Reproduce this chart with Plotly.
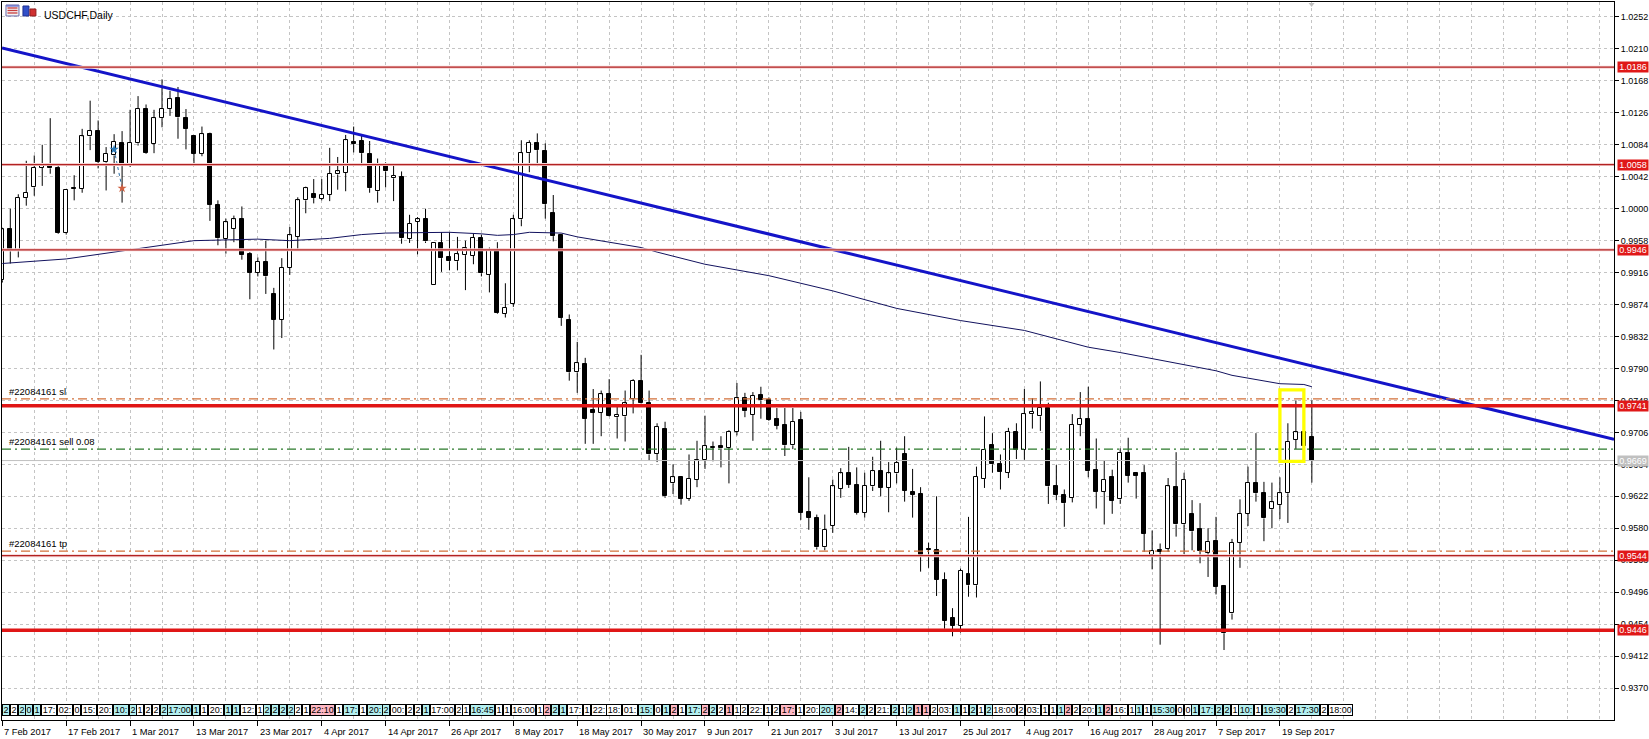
import plotly.graph_objects as go

# ---------------- data ----------------
OPEN = [0.9906,0.9973,0.9944,1.0014,1.0028,1.0054,1.0059,1.0053,0.9968,1.0027,
        1.0026,1.0095,1.0102,1.0061,1.0070,1.0087,1.0057,1.0086,1.0131,1.0085,
        1.0119,1.0131,1.0145,1.0119,1.0095,1.0072,1.0098,1.0005,0.9960,0.9974,
        0.9986,0.9941,0.9916,0.9930,0.9888,0.9854,0.9922,0.9963,1.0011,1.0019,
        1.0013,1.0018,1.0045,1.0047,1.0088,1.0089,1.0072,1.0023,1.0056,1.0040,
        1.0042,0.9960,0.9983,0.9986,0.9900,0.9955,0.9937,0.9931,0.9939,0.9938,
        0.9962,0.9913,0.9946,0.9862,0.9875,0.9986,1.0073,1.0086,1.0076,0.9994,
        0.9965,0.9854,0.9785,0.9796,0.9735,0.9732,0.9757,0.9726,0.9727,0.9750,
        0.9774,0.9744,0.9678,0.9711,0.9639,0.9647,0.9619,0.9644,0.9670,0.9686,
        0.9688,0.9686,0.9707,0.9751,0.9729,0.9755,0.9749,0.9723,0.9716,0.9689,
        0.9722,0.9601,0.9593,0.9555,0.9583,0.9632,0.9652,0.9637,0.9600,0.9635,
        0.9655,0.9633,0.9652,0.9678,0.9628,0.9625,0.9553,0.9552,0.9512,0.9462,
        0.9452,0.9520,0.9505,0.9645,0.9690,0.9665,0.9653,0.9706,0.9683,0.9730,
        0.9727,0.9738,0.9635,0.9624,0.9620,0.9716,0.9724,0.9656,0.9628,0.9648,
        0.9618,0.9679,0.9652,0.9652,0.9545,0.9551,0.9553,0.9634,0.9585,0.9599,
        0.9579,0.9548,0.9563,0.9504,0.9468,0.9561,0.9599,0.9640,0.9626,0.9605,
        0.9611,0.9626,0.9696,0.9706,0.9700]
HIGH = [0.9975,1.0000,1.0019,1.0063,1.0070,1.0084,1.0119,1.0056,1.0024,1.0044,
        1.0105,1.0142,1.0116,1.0081,1.0098,1.0102,1.0130,1.0148,1.0137,1.0130,
        1.0170,1.0155,1.0160,1.0131,1.0096,1.0108,1.0100,1.0011,0.9987,0.9991,
        1.0003,0.9943,0.9936,0.9958,0.9896,0.9935,0.9976,1.0015,1.0029,1.0039,
        1.0039,1.0080,1.0068,1.0097,1.0108,1.0096,1.0089,1.0066,1.0061,1.0058,
        1.0049,0.9992,0.9989,1.0000,0.9956,0.9969,0.9969,0.9963,0.9958,0.9967,
        0.9966,0.9949,0.9956,0.9902,0.9992,1.0090,1.0090,1.0099,1.0086,1.0018,
        0.9967,0.9861,0.9825,0.9804,0.9763,0.9761,0.9776,0.9740,0.9761,0.9776,
        0.9808,0.9761,0.9718,0.9720,0.9664,0.9648,0.9677,0.9695,0.9728,0.9694,
        0.9701,0.9709,0.9771,0.9758,0.9759,0.9766,0.9752,0.9738,0.9738,0.9738,
        0.9733,0.9647,0.9598,0.9598,0.9644,0.9659,0.9687,0.9660,0.9653,0.9674,
        0.9695,0.9667,0.9686,0.9701,0.9658,0.9634,0.9561,0.9622,0.9522,0.9475,
        0.9527,0.9595,0.9661,0.9727,0.9705,0.9677,0.9712,0.9718,0.9763,0.9751,
        0.9773,0.9745,0.9663,0.9631,0.9730,0.9759,0.9766,0.9698,0.9669,0.9657,
        0.9685,0.9699,0.9654,0.9663,0.9577,0.9560,0.9646,0.9680,0.9653,0.9617,
        0.9613,0.9580,0.9595,0.9505,0.9566,0.9618,0.9661,0.9705,0.9641,0.9640,
        0.9647,0.9718,0.9748,0.9709,0.9748]
LOW = [0.9903,0.9928,0.9936,1.0004,1.0017,1.0030,1.0046,0.9967,0.9966,1.0011,
       1.0021,1.0077,1.0053,1.0024,1.0046,1.0008,1.0055,1.0083,1.0072,1.0073,
       1.0107,1.0122,1.0092,1.0078,1.0060,1.0069,0.9984,0.9952,0.9941,0.9956,
       0.9933,0.9881,0.9911,0.9888,0.9815,0.9830,0.9913,0.9947,0.9994,1.0007,
       1.0011,1.0010,1.0025,1.0023,1.0074,1.0056,1.0021,1.0008,1.0028,1.0010,
       0.9954,0.9955,0.9940,0.9955,0.9900,0.9917,0.9919,0.9919,0.9893,0.9927,
       0.9911,0.9890,0.9862,0.9857,0.9871,0.9977,1.0048,1.0056,0.9987,0.9957,
       0.9846,0.9774,0.9758,0.9691,0.9691,0.9701,0.9727,0.9698,0.9694,0.9731,
       0.9744,0.9669,0.9667,0.9620,0.9625,0.9611,0.9616,0.9634,0.9658,0.9668,
       0.9660,0.9639,0.9702,0.9726,0.9695,0.9724,0.9721,0.9710,0.9675,0.9684,
       0.9591,0.9578,0.9552,0.9551,0.9574,0.9620,0.9633,0.9598,0.9594,0.9629,
       0.9622,0.9601,0.9639,0.9615,0.9594,0.9523,0.9528,0.9491,0.9448,0.9438,
       0.9443,0.9490,0.9489,0.9633,0.9653,0.9631,0.9646,0.9671,0.9670,0.9711,
       0.9708,0.9612,0.9617,0.9582,0.9614,0.9701,0.9647,0.9606,0.9585,0.9599,
       0.9612,0.9640,0.9619,0.9549,0.9526,0.9427,0.9549,0.9569,0.9546,0.9551,
       0.9534,0.9516,0.9493,0.9420,0.9460,0.9528,0.9583,0.9615,0.9563,0.9580,
       0.9592,0.9587,0.9684,0.9667,0.9640]
CLOSE = [0.9973,0.9944,1.0014,1.0021,1.0054,1.0059,1.0053,0.9968,1.0024,1.0026,
         1.0095,1.0102,1.0062,1.0072,1.0088,1.0056,1.0087,1.0131,1.0073,1.0119,
         1.0131,1.0144,1.0120,1.0105,1.0072,1.0098,1.0005,0.9961,0.9982,0.9986,
         0.9939,0.9916,0.9930,0.9911,0.9854,0.9922,0.9965,1.0011,1.0027,1.0014,
         1.0018,1.0046,1.0049,1.0090,1.0085,1.0073,1.0027,1.0058,1.0049,1.0043,
         0.9961,0.9980,0.9986,0.9957,0.9955,0.9935,0.9931,0.9940,0.9948,0.9962,
         0.9915,0.9946,0.9863,0.9870,0.9986,1.0073,1.0087,1.0077,1.0006,0.9964,
         0.9857,0.9785,0.9797,0.9724,0.9732,0.9756,0.9728,0.9729,0.9744,0.9774,
         0.9745,0.9677,0.9713,0.9622,0.9647,0.9619,0.9645,0.9670,0.9688,0.9687,
         0.9685,0.9707,0.9751,0.9734,0.9754,0.9748,0.9722,0.9715,0.9689,0.9720,
         0.9600,0.9594,0.9555,0.9578,0.9635,0.9652,0.9637,0.9600,0.9636,0.9655,
         0.9633,0.9652,0.9666,0.9629,0.9624,0.9545,0.9552,0.9512,0.9458,0.9452,
         0.9524,0.9505,0.9648,0.9683,0.9664,0.9654,0.9707,0.9683,0.9730,0.9733,
         0.9738,0.9635,0.9624,0.9613,0.9716,0.9724,0.9655,0.9628,0.9644,0.9616,
         0.9679,0.9649,0.9649,0.9573,0.9550,0.9549,0.9635,0.9585,0.9644,0.9576,
         0.9550,0.9562,0.9503,0.9442,0.9561,0.9599,0.9640,0.9626,0.9593,0.9614,
         0.9626,0.9694,0.9706,0.9688,0.9669]

# moving average samples (bar index, price)
MA_BARS = [0, 8, 16, 24, 32, 36, 41, 45, 48, 56, 60, 62, 64, 66, 70, 72, 76, 80, 82,
           88, 96, 104, 112, 120, 128, 136, 140, 148, 152, 154, 158, 160, 163, 164]
MA_VALUES = [0.9928, 0.9934, 0.9946, 0.9958, 0.9960, 0.9958, 0.9961, 0.9966, 0.9968,
             0.9969, 0.9967, 0.9965, 0.9966, 0.9969, 0.9968, 0.9963, 0.9956, 0.9949,
             0.9943, 0.9927, 0.9912, 0.9892, 0.9869, 0.9853, 0.9840, 0.9818, 0.9811,
             0.9795, 0.9787, 0.9781, 0.9774, 0.9770, 0.9769, 0.9766]

# trendline anchors (bar index, price)
TREND_BARS = [0, 200]
TREND_PRICES = [1.02113, 0.97017]

THIN_LEVELS = [1.0186, 1.0058, 0.9946, 0.9544]
THICK_LEVELS = [0.9741, 0.9446]
SL_PRICE = 0.9750
TP_PRICE = 0.9550
ENTRY_PRICE = 0.9684
BID_PRICE = 0.9669
ORDER_TEXT = ["#22084161 sl", "#22084161 sell 0.08", "#22084161 tp"]

RED_LABELS = ["1.0186", "1.0058", "0.9946", "0.9741", "0.9544", "0.9446"]
GRAY_LABEL = "0.9669"

Y_TICKS = ["0.9370", "0.9412", "0.9454", "0.9496", "0.9538", "0.9580", "0.9622", "0.9664",
           "0.9706", "0.9748", "0.9790", "0.9832", "0.9874", "0.9916", "0.9958", "1.0000",
           "1.0042", "1.0084", "1.0126", "1.0168", "1.0210", "1.0252"]

DATE_BARS = [0, 8, 16, 24, 32, 40, 48, 56, 64, 72, 80, 88, 96, 104, 112, 120, 128, 136, 144, 152, 160]
DATE_LABELS = ["7 Feb 2017", "17 Feb 2017", "1 Mar 2017", "13 Mar 2017", "23 Mar 2017",
               "4 Apr 2017", "14 Apr 2017", "26 Apr 2017", "8 May 2017", "18 May 2017",
               "30 May 2017", "9 Jun 2017", "21 Jun 2017", "3 Jul 2017", "13 Jul 2017",
               "25 Jul 2017", "4 Aug 2017", "16 Aug 2017", "28 Aug 2017", "7 Sep 2017",
               "19 Sep 2017"]

BOX_BARS = [160, 163]
BOX_PRICES = [0.9668, 0.9762]

TRADE_BARS = [14, 15]
TRADE_PRICES = [1.0078, 1.0027]

# history labels on the time scale: text and colour code (c=cyan, w=white, p=pink)
HIST_TEXT = ["2","2","2","0","1","17:","02:","0","15:","20:","10:","2","1","2","2","2","17:00",
             "1","1","20:","1","1","12:","1","2","2","2","2","2","1","22:10","1","17:","1","20:",
             "2","00:","2","2","1","17:00","2","1","16:45","1","1","16:00","1","2",
             "2","1","17:","1","22:","18:","01:","15:","0","1","2","1","17:","2","2","2","1","1",
             "2","22:","1","2","17:","1","20:","20:","2","14:","2","2","21:","2","1","2","1","1",
             "2","03:","1","1","2","1","2","18:00","2","03:","1","1","1","2","2",
             "20:","1","2","16:","1","1","1","15:30","0","0","1","17:","2","2","1","10:","1",
             "19:30","2","17:30","2","18:00"]
HIST_COLOR = ["c","w","c","c","c","w","w","w","w","w","c","c","w","w","w","c","c",
              "c","w","w","c","c","w","w","c","c","c","c","w","w","p","w","c","w","c",
              "c","w","w","w","c","w","w","w","c","w","w","w","w","p",
              "c","c","w","w","w","w","w","c","w","c","p","w","c","p","c","w","p","w",
              "w","w","w","w","p","w","w","c","p","w","c","w","w","c","w","c","p","p",
              "w","w","c","w","c","w","c","w","w","w","w","w","c","p","w",
              "w","c","p","w","w","c","w","c","w","w","c","c","c","c","w","c","w",
              "c","w","c","w","w"]

# ---------------- geometry helpers (layout only) ----------------
W, H = 1649, 739
ML, MR, MT, MB = 1, 33, 1, 19
PW, PH = W - ML - MR, H - MT - MB
X_RANGE = [-0.04, 201.84]
Y_RANGE = [0.93280, 1.02717]
FONT = "Liberation Sans"


def px_x(px):
    return (px - ML) / PW


def px_y(py):
    return 1 - (py - MT) / PH


fig = go.Figure()

# wicks
wx, wy = [], []
for i, (o, h, l, c) in enumerate(zip(OPEN, HIGH, LOW, CLOSE)):
    top, bot = max(o, c), min(o, c)
    wx += [i, i, None, i, i, None]
    wy += [h, top, None, bot, l, None]
fig.add_trace(go.Scatter(x=wx, y=wy, mode="lines", line=dict(color="black", width=1),
                         hoverinfo="skip"))

# bodies
bx = list(range(len(OPEN)))
base = [min(o, c) for o, c in zip(OPEN, CLOSE)]
hgt = [max(abs(c - o), 0.00003) for o, c in zip(OPEN, CLOSE)]
fill = ["white" if c >= o else "black" for o, c in zip(OPEN, CLOSE)]
fig.add_trace(go.Bar(x=bx, y=hgt, base=base, width=0.5,
                     marker=dict(color=fill, line=dict(color="black", width=1)),
                     hoverinfo="skip"))

# moving average
fig.add_trace(go.Scatter(x=MA_BARS, y=MA_VALUES, mode="lines",
                         line=dict(color="#12125e", width=1), hoverinfo="skip"))

# trendline extended across the chart
slope = (TREND_PRICES[1] - TREND_PRICES[0]) / (TREND_BARS[1] - TREND_BARS[0])
tx = [X_RANGE[0], X_RANGE[1]]
ty = [TREND_PRICES[0] + slope * (x - TREND_BARS[0]) for x in tx]
fig.add_trace(go.Scatter(x=tx, y=ty, mode="lines", line=dict(color="#1414c8", width=3),
                         hoverinfo="skip"))

# closed trade marker
fig.add_trace(go.Scatter(x=TRADE_BARS, y=TRADE_PRICES, mode="lines",
                         line=dict(color="#2a6fa8", width=1, dash="dot"), hoverinfo="skip"))
fig.add_trace(go.Scatter(x=TRADE_BARS[:1], y=TRADE_PRICES[:1], mode="markers",
                         marker=dict(symbol="star", size=7, color="#2a7ab8"), hoverinfo="skip"))
fig.add_trace(go.Scatter(x=TRADE_BARS[1:], y=TRADE_PRICES[1:], mode="markers",
                         marker=dict(symbol="star", size=7, color="#d06040"), hoverinfo="skip"))

shapes = []
# thin red levels with a pale halo
for lv in THIN_LEVELS:
    shapes.append(dict(type="line", xref="paper", yref="y", x0=0, x1=1, y0=lv, y1=lv,
                       line=dict(color="#f6d2d2", width=3), layer="above"))
    shapes.append(dict(type="line", xref="paper", yref="y", x0=0, x1=1, y0=lv, y1=lv,
                       line=dict(color="#b22222", width=1.2), layer="above"))
for lv in THICK_LEVELS:
    shapes.append(dict(type="line", xref="paper", yref="y", x0=0, x1=1, y0=lv, y1=lv,
                       line=dict(color="#e01616", width=3.5), layer="above"))
for lv in (SL_PRICE, TP_PRICE):
    shapes.append(dict(type="line", xref="paper", yref="y", x0=0, x1=1, y0=lv, y1=lv,
                       line=dict(color="#d2703a", width=1.2, dash="9px,4px,2px,4px"),
                       layer="above"))
shapes.append(dict(type="line", xref="paper", yref="y", x0=0, x1=1, y0=ENTRY_PRICE,
                   y1=ENTRY_PRICE, line=dict(color="#2a7a2a", width=1.2, dash="9px,4px,2px,4px"),
                   layer="above"))
shapes.append(dict(type="line", xref="paper", yref="y", x0=0, x1=1, y0=BID_PRICE,
                   y1=BID_PRICE, line=dict(color="#c0c0c0", width=1), layer="above"))
# yellow box
shapes.append(dict(type="rect", xref="x", yref="y", x0=BOX_BARS[0], x1=BOX_BARS[1],
                   y0=BOX_PRICES[0], y1=BOX_PRICES[1],
                   line=dict(color="#ffff00", width=3.3), layer="above"))
# icons top-left
shapes.append(dict(type="rect", xref="paper", yref="paper", x0=px_x(5), x1=px_x(18),
                   y0=px_y(15), y1=px_y(4), fillcolor="#f4f4f4",
                   line=dict(color="#6a6aa8", width=1)))
for k, py in enumerate([7, 9.5, 12]):
    shapes.append(dict(type="line", xref="paper", yref="paper", x0=px_x(6.5), x1=px_x(16.5),
                       y0=px_y(py), y1=px_y(py), line=dict(color="#c83c3c", width=1.3)))
shapes.append(dict(type="rect", xref="paper", yref="paper", x0=px_x(5.5), x1=px_x(17.5),
                   y0=px_y(5.5), y1=px_y(4.5), fillcolor="#3c4cc8", line=dict(width=0)))
shapes.append(dict(type="rect", xref="paper", yref="paper", x0=px_x(22), x1=px_x(28),
                   y0=px_y(15), y1=px_y(5), fillcolor="#3250c8", line=dict(color="#203090", width=1)))
shapes.append(dict(type="rect", xref="paper", yref="paper", x0=px_x(29), x1=px_x(35),
                   y0=px_y(15), y1=px_y(8), fillcolor="#d03030", line=dict(color="#902020", width=1)))
# shift marker at top
shapes.append(dict(type="path", xref="paper", yref="paper",
                   path=f"M {px_x(1310)} {px_y(2)} L {px_x(1316)} {px_y(2)} L {px_x(1313)} {px_y(6)} Z",
                   fillcolor="#c0c0c0", line=dict(width=0)))

ann = []
ann.append(dict(text="USDCHF,Daily", xref="paper", yref="paper", x=px_x(41), y=px_y(6),
                xanchor="left", yanchor="top", showarrow=False,
                font=dict(family=FONT, size=10.5, color="black")))
for txt, lv in zip(ORDER_TEXT, (SL_PRICE, ENTRY_PRICE, TP_PRICE)):
    ann.append(dict(text=txt, xref="paper", yref="y", x=px_x(6), y=lv, xanchor="left",
                    yanchor="bottom", showarrow=False, yshift=0,
                    font=dict(family=FONT, size=9.5, color="black")))
red_prices = [float(t) for t in RED_LABELS]
for lab, lv in zip(RED_LABELS, red_prices):
    ann.append(dict(text=lab, xref="paper", yref="y", x=1, y=lv, xanchor="left",
                    yanchor="middle", xshift=3, showarrow=False, bgcolor="#e01818",
                    width=30, height=10, borderpad=0,
                    font=dict(family=FONT, size=9, color="white")))
ann.append(dict(text=GRAY_LABEL, xref="paper", yref="y", x=1, y=float(GRAY_LABEL),
                xanchor="left", yanchor="middle", xshift=3, showarrow=False,
                bgcolor="#c0c0c0", width=30, height=10, borderpad=0,
                font=dict(family=FONT, size=9, color="white")))
for b, lab in zip(DATE_BARS, DATE_LABELS):
    ann.append(dict(text=lab, xref="x", yref="paper", x=b, y=0, xanchor="left",
                    yanchor="top", yshift=-5, xshift=0, showarrow=False,
                    font=dict(family=FONT, size=9.3, color="black")))

# history label row
colmap = {"c": "#b4f0f0", "w": "white", "p": "#ffb8c4"}
wmap = {1: 5.8, 3: 14, 5: 23}
xpos = 1.0
for t, c in zip(HIST_TEXT, HIST_COLOR):
    w = wmap.get(len(t), 14)
    ann.append(dict(text=t, xref="paper", yref="paper", x=px_x(xpos), y=0,
                    xanchor="left", yanchor="bottom", yshift=4, showarrow=False,
                    width=w, height=10, borderpad=0, borderwidth=1, bordercolor="black",
                    bgcolor=colmap[c], font=dict(family=FONT, size=9, color="black")))
    xpos += w + 2

grid = dict(color="#c4c4c4", dash="3px,3px")
fig.update_layout(
    width=W, height=H, margin=dict(l=ML, r=MR, t=MT, b=MB, pad=0),
    paper_bgcolor="white", plot_bgcolor="white", showlegend=False,
    shapes=shapes, annotations=ann, bargap=0,
    xaxis=dict(range=X_RANGE, showline=True, mirror=True, linecolor="black", linewidth=1,
               ticks="outside", ticklen=5, tickcolor="black", tickvals=DATE_BARS,
               showticklabels=False, showgrid=True, gridcolor=grid["color"],
               griddash=grid["dash"], gridwidth=1, zeroline=False,
               minor=dict(tickvals=list(range(0, 202, 4)), showgrid=True,
                          gridcolor=grid["color"], griddash=grid["dash"], ticklen=0)),
    yaxis=dict(range=Y_RANGE, side="right", showline=True, mirror=True, linecolor="black",
               linewidth=1, ticks="outside", ticklen=4, tickcolor="black",
               tickvals=[float(t) for t in Y_TICKS], ticktext=Y_TICKS,
               tickfont=dict(family=FONT, size=9, color="black"),
               showgrid=True, gridcolor=grid["color"], griddash=grid["dash"], zeroline=False),
)

fig.write_html("out.html")
